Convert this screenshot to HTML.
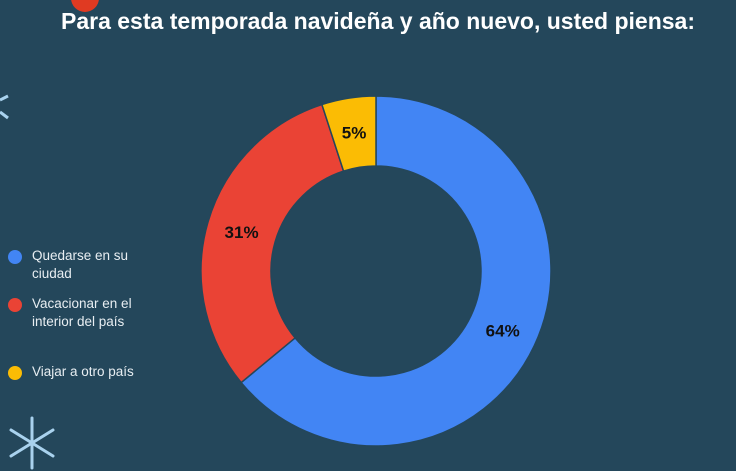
<!DOCTYPE html>
<html><head><meta charset="utf-8"><style>
html,body{margin:0;padding:0;background:#24475b;}
#c{position:relative;width:736px;height:471px;overflow:hidden;background:#24475b;font-family:"Liberation Sans",sans-serif;}
.title{position:absolute;left:0;width:756px;top:8px;text-align:center;color:#fff;font-weight:bold;font-size:23px;}
.leg{position:absolute;left:8px;color:#e8eef2;font-size:13.5px;line-height:18px;}
.leg .dot{position:absolute;left:0;top:3px;width:14px;height:14px;border-radius:50%;}
.leg .t{margin-left:24px;width:120px;}
</style></head><body>
<div id="c">
<svg width="736" height="471" style="position:absolute;left:0;top:0">
<circle cx="85" cy="-2" r="14" fill="#e03a22"/>
<g stroke="#a9d2ee" stroke-width="3" stroke-linecap="round">
<line x1="32" y1="418" x2="32" y2="468"/><line x1="11" y1="430" x2="53" y2="456"/><line x1="11" y1="456" x2="53" y2="430"/>
</g>
<g stroke="#a9d2ee" stroke-width="3">
<line x1="0" y1="100" x2="8" y2="96"/><line x1="0" y1="112" x2="8" y2="118"/>
</g>
<g id="donut"></g>
</svg>
<div class="title">Para esta temporada navideña y año nuevo, usted piensa:</div>
<div class="leg" style="top:247px"><span class="dot" style="background:#4285f4"></span><div class="t">Quedarse en su ciudad</div></div>
<div class="leg" style="top:295px"><span class="dot" style="background:#ea4335"></span><div class="t">Vacacionar en el interior del país</div></div>
<div class="leg" style="top:363px"><span class="dot" style="background:#fbbc04"></span><div class="t">Viajar a otro país</div></div>
</div>
<script>
const categories=["Quedarse en su ciudad","Vacacionar en el interior del país","Viajar a otro país"];
const values=[64,31,5];
const colors=["#4285f4","#ea4335","#fbbc04"];
const cx=376,cy=271,R=175,r=105;
const g=document.getElementById('donut');
const total=values.reduce((a,b)=>a+b,0);
function pt(a,rad){return [cx+rad*Math.sin(a),cy-rad*Math.cos(a)];}
let start=0;
values.forEach((v,i)=>{
 const ang=v/total*2*Math.PI,end=start+ang,lg=ang>Math.PI?1:0;
 const [x1,y1]=pt(start,R),[x2,y2]=pt(end,R),[x3,y3]=pt(end,r),[x4,y4]=pt(start,r);
 const p=document.createElementNS('http://www.w3.org/2000/svg','path');
 p.setAttribute('d',`M${x1},${y1}A${R},${R} 0 ${lg} 1 ${x2},${y2}L${x3},${y3}A${r},${r} 0 ${lg} 0 ${x4},${y4}Z`);
 p.setAttribute('fill',colors[i]);p.setAttribute('stroke','#24475b');p.setAttribute('stroke-width','1.5');
 
 
 g.appendChild(p);
 const [lx,ly]=pt(start+ang/2,(R+r)/2);
 const t=document.createElementNS('http://www.w3.org/2000/svg','text');
 t.setAttribute('x',lx);t.setAttribute('y',ly+6);t.setAttribute('text-anchor','middle');
 t.setAttribute('font-family','Liberation Sans, sans-serif');t.setAttribute('font-weight','bold');t.setAttribute('font-size','17');t.setAttribute('fill','#111');
 t.textContent=Math.round(v/total*100)+'%';
 
 
 g.appendChild(t);
 start=end;
});
</script>
</body></html>
